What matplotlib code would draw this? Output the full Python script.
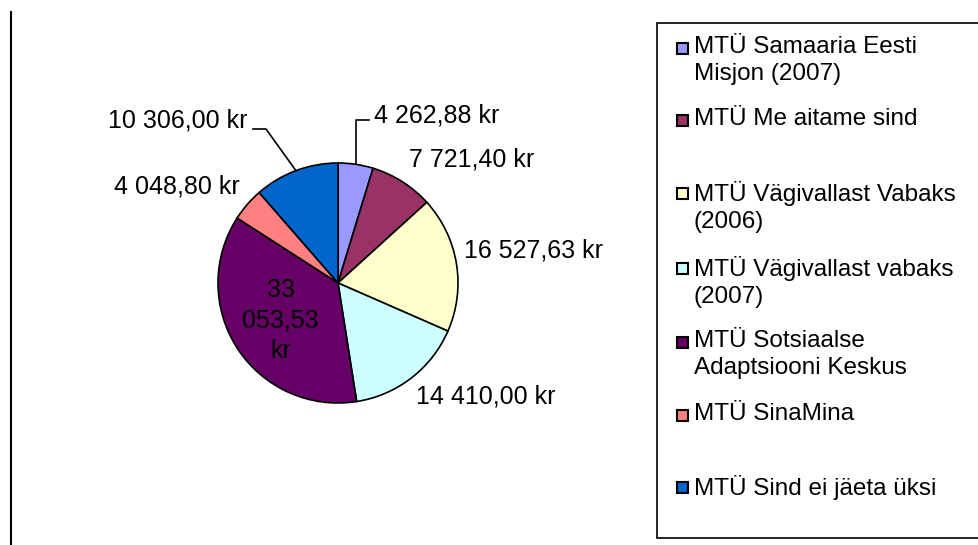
import numpy as np
import matplotlib
matplotlib.use("Agg")
import matplotlib.pyplot as plt
from matplotlib.patches import Rectangle
from matplotlib.lines import Line2D

plt.rcParams['font.family'] = ['Liberation Sans', 'DejaVu Sans']

# andmed
organisations = [
    "MTÜ Samaaria Eesti\nMisjon (2007)",
    "MTÜ Me aitame sind",
    "MTÜ Vägivallast Vabaks\n(2006)",
    "MTÜ Vägivallast vabaks\n(2007)",
    "MTÜ Sotsiaalse\nAdaptsiooni Keskus",
    "MTÜ SinaMina",
    "MTÜ Sind ei jäeta üksi",
]
amounts = [4262.88, 7721.40, 16527.63, 14410.00, 33053.53, 4048.80, 10306.00]
value_labels = ["4 262,88 kr", "7 721,40 kr", "16 527,63 kr", "14 410,00 kr",
                "33\n053,53\nkr", "4 048,80 kr", "10 306,00 kr"]
colors = ["#9999FF", "#993366", "#FFFFCC", "#CCFFFF", "#660066", "#FF8080", "#0066CC"]

W, H = 979, 545
R = 120.0            # pie radius in px
CX, CY = 338, 283    # pie centre in px (from top)

fig = plt.figure(figsize=(W / 100, H / 100), dpi=100)
ax = fig.add_axes([0, 0, 1, 1])
ax.pie(amounts, colors=colors, startangle=90, counterclock=False, radius=1,
       wedgeprops=dict(edgecolor="black", linewidth=1.2))
ax.set_aspect('auto')
ax.set_xlim(-CX / R, (W - CX) / R)
ax.set_ylim(-(H - CY) / R, CY / R)
ax.axis('off')

# sildid nurga järgi
frac = np.array(amounts) / sum(amounts)
cum = np.cumsum(frac) - frac / 2
mid = np.deg2rad(cum * 360)
fs = 18
dist = [None, 1.1, 1.06, 1.07, 0.57, 1.08, None]
align = [None, ("left", "bottom"), ("left", "bottom"), ("left", "top"),
         ("center", "center"), ("right", "bottom"), None]
for i, lab in enumerate(value_labels):
    sx, sy = np.sin(mid[i]), np.cos(mid[i])
    if dist[i] is not None:
        ha, va = align[i]
        ax.text(dist[i] * sx, dist[i] * sy, lab, ha=ha, va=va, fontsize=fs,
                linespacing=1.35)

# juhtjooned
sx, sy = np.sin(mid[0]), np.cos(mid[0])
top = 163 / R
ax.plot([sx, sx, sx + 13 / R], [sy, top, top], color="black", lw=1.2)
ax.text(sx + 18 / R, top + 4 / R, value_labels[0], ha="left", va="center", fontsize=fs)

sx, sy = np.sin(mid[6]), np.cos(mid[6])
ly = 154 / R
ax.plot([sx, -72 / R, -85 / R], [sy, ly, ly], color="black", lw=1.2)
ax.text(-91 / R, ly + 8 / R, value_labels[6], ha="right", va="center", fontsize=fs)

# vasak joon
fig.add_artist(Line2D([11 / W, 11 / W], [0, 1 - 12 / H], color="black", lw=1.5))

# legend
fig.add_artist(Rectangle((657 / W, 1 - 538 / H), (340) / W, (538 - 23) / H,
                         facecolor="white", edgecolor="black", lw=1.2,
                         transform=fig.transFigure, clip_on=False))
entry_y = [48, 120, 193, 268, 342, 415, 487]
for name, col, y in zip(organisations, colors, entry_y):
    fig.add_artist(Rectangle((677 / W, 1 - (y + 6) / H), 11 / W, 11 / H,
                             facecolor=col, edgecolor="black", lw=1.5,
                             transform=fig.transFigure))
    fig.text(694 / W, 1 - (y - 12) / H, name, ha="left", va="top",
             fontsize=17.5, linespacing=1.3)

fig.savefig("out.png", dpi=100)
